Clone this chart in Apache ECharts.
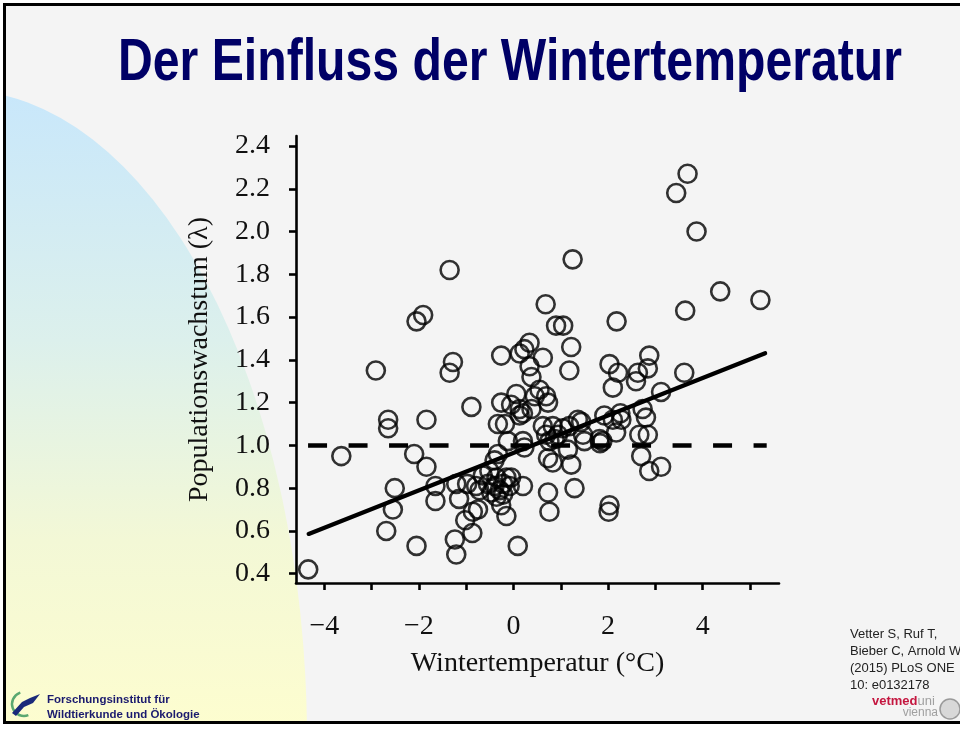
<!DOCTYPE html>
<html>
<head>
<meta charset="utf-8">
<script src="https://cdn.jsdelivr.net/npm/echarts@6/dist/echarts.min.js"></script>
<style>
  html, body { margin: 0; padding: 0; width: 960px; height: 731px; overflow: hidden; background: #fff; }
  #slide { position: absolute; left: 3px; top: 3px; width: 1000px; height: 715px; border: 3px solid #000; background: #f4f4f4; overflow: hidden; }
  #blob { position: absolute; left: -393px; top: 84px; width: 694px; height: 1300px; border-radius: 50%;
          background: linear-gradient(to bottom, #c8e7fb 0px, #dcf0ec 250px, #f3f8d6 450px, #fdfdcf 640px); }
  #chart { position: absolute; left: 0; top: 0; width: 960px; height: 731px; }
</style>
</head>
<body>
<div id="slide"><div id="blob"></div></div>
<div id="chart"></div>
<script>
// Wintertemperatur (°C) und Populationswachstum (lambda)
var winterTemp = [
  -4.34, -3.64, -2.91, -2.65, -2.65, -2.51, -2.55, -2.69, -2.10, -1.84,
  -2.05, -2.05, -1.91, -1.84, -1.65, -1.65, -1.35, -1.35, -1.28, -1.24,
  -1.21, -1.21, -0.98, -1.15, -1.02, -0.86, -0.87, -0.79, -0.89, -0.65,
  -0.51, -0.36, -0.54, -0.40, -0.22, -0.15, -0.05, -0.72, -0.47, -0.22,
  -0.36, -0.75, -0.40, -0.33, -0.29, -0.08, 0.20, -0.26, -0.15, 0.09,
  0.23, -0.12, 0.20, -0.26, 0.13, 0.23, 0.34, 0.62, 0.34, 0.38,
  0.06, 0.55, 0.69, 0.45, -0.26, -0.05, 0.13, 0.38, 0.73, -0.33,
  -0.18, 0.13, 0.20, 0.62, 0.83, 0.94, 0.69, 0.76, 0.87, 0.73,
  0.83, 1.22, 0.73, 1.29, 0.76, 0.68, 0.90, 1.05, 1.22, 1.25,
  2.18, 1.18, 2.03, 2.21, 2.10, 2.87, 2.84, 2.63, 2.59, 3.12,
  3.61, 1.92, 2.10, 2.26, 2.28, 2.17, 2.73, 2.80, 2.84, 2.66,
  1.18, 1.43, 1.47, 1.82, 1.04, 1.36, 1.50, 1.15, 1.83, 1.88,
  2.70, 2.87, 3.12, 2.03, 2.01, 3.68, 3.44, 3.87, 4.37, 5.22,
  3.63
];
var lambda = [
  0.42, 0.95, 1.35, 1.12, 1.08, 0.80, 0.70, 0.60, 0.96, 0.90,
  0.53, 1.58, 1.61, 1.12, 0.81, 0.74, 1.82, 1.34, 1.39, 0.56,
  0.49, 0.82, 0.82, 0.75, 0.65, 0.69, 0.59, 0.81, 1.18, 0.86,
  0.88, 0.85, 0.82, 0.81, 0.82, 0.85, 0.85, 0.79, 0.78, 0.77,
  0.76, 0.70, 0.93, 0.96, 0.79, 0.81, 0.81, 0.72, 0.67, 0.53,
  0.99, 1.02, 1.02, 1.42, 1.43, 1.45, 1.48, 1.41, 1.37, 1.32,
  1.24, 1.26, 1.23, 1.23, 1.20, 1.19, 1.17, 1.17, 1.20, 1.10,
  1.10, 1.14, 1.15, 1.09, 1.09, 1.05, 1.05, 1.02, 1.03, 0.94,
  0.92, 0.91, 0.78, 0.80, 0.69, 1.66, 1.56, 1.56, 1.46, 1.87,
  1.58, 1.35, 1.38, 1.34, 1.27, 1.42, 1.36, 1.34, 1.30, 1.25,
  1.34, 1.14, 1.12, 1.15, 1.12, 1.06, 1.17, 1.13, 1.05, 1.05,
  1.09, 1.11, 1.05, 1.03, 1.08, 1.12, 1.02, 0.98, 1.01, 1.02,
  0.95, 0.88, 0.90, 0.72, 0.69, 2.27, 2.18, 2.00, 1.72, 1.68,
  1.63
];
// Regressionsgerade und Referenzlinie lambda = 1
var regX = [-4.33, 5.32];
var regY = [0.586, 1.431];
var refX = [-4.343, 5.353];
var refY = [1.0, 1.0];

var xTicks = [-4, -3, -2, -1, 0, 1, 2, 3, 4, 5];
var xLabels = [-4, -2, 0, 2, 4];
var yTicks = [0.4, 0.6, 0.8, 1.0, 1.2, 1.4, 1.6, 1.8, 2.0, 2.2, 2.4];

var titleText = 'Der Einfluss der Wintertemperatur';
var citation = ['Vetter S, Ruf T,', 'Bieber C, Arnold W,', '(2015) PLoS ONE', '10: e0132178'];
var instituteLines = ['Forschungsinstitut für', 'Wildtierkunde und Ökologie'];

var points = winterTemp.map(function (t, i) { return [t, lambda[i]]; });

// Titel ist schmal gesetzt -> Breite messen und horizontal stauchen
var titleFont = 'bold 59px "Liberation Sans", Arial, sans-serif';
var ctx = document.createElement('canvas').getContext('2d');
ctx.font = titleFont;
var titleScale = 784 / ctx.measureText(titleText).width;

var serif = '"Liberation Serif", "Times New Roman", serif';
var axisCommon = {
  axisLine: { onZero: false, lineStyle: { color: '#000', width: 2.6 } },
  axisTick: { length: 7, lineStyle: { color: '#000', width: 2.6 } },
  splitLine: { show: false }
};

var chart = echarts.init(document.getElementById('chart'), null, { renderer: 'canvas' });
var option = {
  animation: false,
  backgroundColor: 'transparent',
  grid: { left: 296, right: 181, top: 136, bottom: 148 },
  xAxis: Object.assign({}, axisCommon, {
    type: 'value',
    min: -4.598,
    max: 5.613,
    name: 'Wintertemperatur (°C)',
    nameLocation: 'middle',
    nameGap: 67,
    nameTextStyle: { fontFamily: serif, fontSize: 28, color: '#111' },
    axisTick: Object.assign({}, axisCommon.axisTick, { customValues: xTicks }),
    axisLabel: {
      customValues: xLabels,
      margin: 30,
      fontFamily: serif,
      fontSize: 28,
      color: '#111',
      formatter: function (v) { return v < 0 ? '\u2212' + Math.abs(v) : String(v); }
    }
  }),
  yAxis: Object.assign({}, axisCommon, {
    type: 'value',
    min: 0.3565,
    max: 2.4468,
    name: 'Populationswachstum (λ)',
    nameLocation: 'middle',
    nameGap: 82,
    nameTextStyle: { fontFamily: serif, fontSize: 28, color: '#111' },
    axisTick: Object.assign({}, axisCommon.axisTick, { customValues: yTicks }),
    axisLabel: {
      customValues: yTicks,
      margin: 26,
      fontFamily: serif,
      fontSize: 28,
      color: '#111',
      formatter: function (v) { return v.toFixed(1); }
    }
  }),
  series: [
    {
      type: 'line',
      data: refX.map(function (x, i) { return [x, refY[i]]; }),
      symbol: 'none',
      lineStyle: { color: '#000', width: 4.5, type: [19, 21.5], cap: 'butt' },
      z: 2
    },
    {
      type: 'scatter',
      data: points,
      symbol: 'circle',
      symbolSize: 18,
      itemStyle: { color: 'rgba(0,0,0,0)', borderColor: '#000', borderWidth: 2.6 },
      z: 3
    },
    {
      type: 'line',
      data: regX.map(function (x, i) { return [x, regY[i]]; }),
      symbol: 'none',
      lineStyle: { color: '#000', width: 4.2, cap: 'round' },
      z: 4
    }
  ],
  graphic: [
    {
      type: 'text', x: 510, y: 64, scaleX: titleScale,
      style: { text: titleText, font: titleFont, fill: '#000066', align: 'center', verticalAlign: 'middle' }
    },
    {
      type: 'text', x: 850, y: 626,
      style: { text: citation.join('\n'), font: '13px "Liberation Sans", Arial, sans-serif', lineHeight: 17, fill: '#222', align: 'left', verticalAlign: 'top' }
    },
    {
      type: 'text', x: 872, y: 708,
      style: {
        text: '{a|vetmed}{b|uni}', verticalAlign: 'bottom',
        rich: {
          a: { font: 'bold 13px "Liberation Sans", Arial, sans-serif', fill: '#c4163f' },
          b: { font: '13px "Liberation Sans", Arial, sans-serif', fill: '#a0a0a0' }
        }
      }
    },
    {
      type: 'text', x: 938, y: 719,
      style: { text: 'vienna', font: '12px "Liberation Sans", Arial, sans-serif', fill: '#a0a0a0', align: 'right', verticalAlign: 'bottom' }
    },
    {
      type: 'circle', shape: { cx: 950, cy: 709, r: 10 },
      style: { fill: '#d8d8d8', stroke: '#9a9a9a', lineWidth: 1.5 }
    },
    {
      type: 'arc', shape: { cx: 24, cy: 704, r: 12, startAngle: 1.2, endAngle: 4.4 },
      style: { stroke: '#5aa870', lineWidth: 2.5, fill: null }
    },
    {
      type: 'polygon', shape: { points: [[12, 713], [22, 702], [30, 698], [40, 694], [33, 703], [24, 707], [16, 716]] },
      style: { fill: '#1a2a7a' }
    },
    {
      type: 'text', x: 47, y: 692,
      style: { text: instituteLines.join('\n'), font: 'bold 11.5px "Liberation Sans", Arial, sans-serif', lineHeight: 15, fill: '#1a1a6e', align: 'left', verticalAlign: 'top' }
    }
  ]
};
chart.setOption(option);
</script>
</body>
</html>
